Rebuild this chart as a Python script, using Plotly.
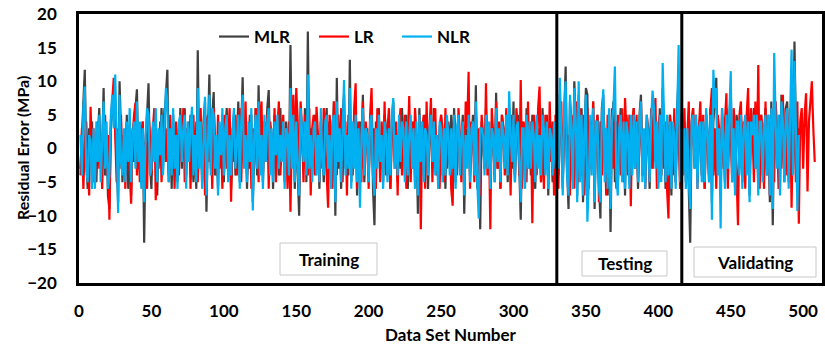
import plotly.graph_objects as go

# ---------------- data ----------------
mlr = [
    -3, 2, 5, 11.7, -2, -6, 3, -1, 4, -5,
    1, -5, 2, 6, -3, 0, 9, -4, 2, -7,
    -9, 3, 6, 9, 4, -2, -8, 10, 3, -5,
    2, -4, 5, -6, 1, -7, 3, -2, 6, 8.8,
    -3, 2, -5, 4, -14, 1, 5, 9.7, -2, -6,
    3, -1, 5, -7, 2, 0, 6, -3, 4, 8,
    11.7, -4, 2, -6, 5, -2, 3, -5, 1, 6,
    -3, 4, 6, -4, 2, -1, 5, 3, -5, 1,
    -6, 14.6, -2, 3, -5, 4, 7, -9.4, 2, 11,
    -3, 5, 8.4, -4, 1, -6, 3, -2, 5, -5,
    2, 6, -3, 4, -6, 1, 5, -4, 2, 7,
    -5, 3, 10.6, -2, 4, -6, 2, -3, 5, -8,
    1, 6, -4, 9.4, -2, 3, -5, 4, -1, 6,
    8.7, -3, 2, -6, 5, -2, 3, -4, 6, -1,
    2, -5, 4, 1, -3, 15.4, -2, 4, -6, 3,
    -4, -10, 5, 2, -3, 6, -5, 17.4, -1, 3,
    -4, 2, 5, -3, 1, -6, 4, 0, -5, 3,
    6, -2, 4, -5, 2, 7, -10, 10.5, -3, 2,
    -6, 5, 8, -3, 1, -4, 13.2, -5, 3, -2,
    6, -7, 2, 4, -3, 8, -5, 1, 3, -4,
    2, 7, -6, -11.4, 4, -2, 6, -3, 1, -5,
    5, 3, -4, 2, -6, 4, 7, -2, 1, -5,
    3, -3, 6, 2, -4, 5, -6, 1, 3, -2,
    4, -5, 2, -9.7, 6, -1, 3, -4, 5, 1,
    -6, 2, 4, -3, 6, -2, 1, -5, 3, 5,
    -4, 2, -6, 4, 1, -3, 5, -2, 6, -5,
    2, 4, -3, 1, 5, -9.7, 3, -2, 6, -4,
    2, 5, -3, 9.4, -6, 2, -12, 4, 1, -3,
    6, -2, 3, -5, 4, 1, -4, 8.3, -3, 2,
    -6, 5, 3, -2, 4, -5, 6, 1, -3, 7,
    -4, 2, 5, -3, -10.6, 4, 2, -5, 6, -2,
    3, -4, 5, 1, -6, 4, -2, 3, -5, 6,
    2, -3, 5, -7, 4, 1, -5, 3, -2, 6,
    -4, 8, 2, -6, 5, 12.2, -3, -9, 7, 4,
    -5, 10, 3, -7, 8, -4, 6, -8, 2, 9,
    8, -6, 4, -3, 7, -9, 3, 5, -5, -10.4,
    6, 8, -4, 2, -7, 5, -12.4, 3, 7, -5,
    4, -6, 2, 6, -4, 3, -7, 5, 1, -5,
    4, -3, 6, -2, 3, -6, 5, 8, -4, 2,
    -5, 4, 1, -6, 5, -3, 7, -2, 3, -5,
    6, -4, 9, 2, -6, 4, -3, 5, -7, 3,
    1, -5, 6, 11, -4, 2, -3, 4, -5, 2,
    -6, -14, 3, 6, -2, 4, -5, 2, 5, -4,
    3, -6, 5, 2, -4, 6, -8, 4, 7, 10.5,
    -3, 2, -7, 5, 1, -5, 6, -2, 4, 9,
    -4, 2, -6, 5, 3, -3, 6, -5, 2, 4,
    -3, 5, -7, 3, 1, 6, -2, 4, -6, 3,
    5, -4, 2, 6, -3, 4, -8, 7, -11.4, 3,
    5, -2, 4, -6, 8, 3, -4, 6, 7, -5,
    4, 9, -3, 15.9, 2, -7, 3,
]

lr = [
    -4, 3, -6, 1, 4, -2, -7, 6.2, -1, 3,
    -5, 2, 4, -3, 1, -6, 3, 5, -4, 2,
    -10.6, 4, 7, 10.5, 2, -5, 3, -3, 5, -2,
    2, -6, 4, 1, -3, -8.2, 2, 5, 6.8, -4,
    3, -5, 2, 4, -3, 1, -6, 5, 2, -4,
    3, 6, -7.7, 2, -3, 4, -5, 1, 6, -2,
    3, -5, 5, -3, 2, -6, 4, 1, -4, 5,
    -2, 6, -5, 3, -1, 4, -6, 2, 5, -3,
    4, -5, 2, 6, -3, 1, -7, 4, 5, -2,
    3, -6, 6, 2, -4, 5, -3, 2, -6, 4,
    5, -3, 2, 6, -7.9, 3, -2, 5, -4, 2,
    6, -5, 3, -2, 7, -4, 1, 5, -6, 3,
    -3, 6, 2, -5, 4, 7, -4, 3, -2, 5,
    -6, 4, 2, -3, 6, -5, 3, 7, -4, 1,
    5, -3, 2, -6, 4, -9.4, 3, 8, -2, 9,
    4, -6, 7, 3, -5, 5, 2, -4, 6, -7,
    3, 5, -4, 6.2, 2, -5, 4, -3, 6, 1,
    -4, -8.8, 5, 3, -6, 7, 2, -4, 5, -2,
    6, -5, 3, 4, -7, 5, -2, 3, -4, 6,
    9.7, -6, 4, 2, -5, 7, -3, 4, 1, -6,
    5, 9, -4, 3, -6, 6, 2, -5, 4, -3,
    7, -4, 3, 6, -6, 2, 5, -3, 4, -7,
    3, 6, -4, 2, 5, -6, 3, 7.8, -5, 4,
    -3, 6, 2, -5, 4, -12, 3, 5, -6, 7,
    -2, 4, 7.5, -5, 3, 6, -4, 2, -6, 5,
    3, -5, 6, -3, 4, 2, -6, -8.5, 5, 3,
    -4, 6, 2, -5, 4, -3, 7, 3, 11.4, -6,
    4, 2, -5, 6, -4, 3, -7, 5, 2, -3,
    9.7, -4, 3, -12, 6, 2, -5, 7, -3, 4,
    -6, 5, 3, -4, 6, -2, 4, -7, 5, 2,
    -5, 6, 3, -4, 10.2, -6, 4, 2, -5, 7,
    -3, 4, -11.1, 5, 3, -4, 6, 9.2, -5, 2,
    -6, 5, 3, -4, 7, -2, 4, -7, 5, 3,
    -6, 4, 7, -5, 3, 6, -4, 2, -7, 5,
    4, -6, 7, 3, -5, 6, -4, 5, -7, 3,
    6, -5, 4, -3, 7, -6, 3, 5, -8, 4,
    -4, 6, 2, -7, 5, 3, -5, 6, -3, 4,
    -6, 5, 3, -4, 6, -5, 7.5, 2, -4, 5,
    -8.6, 4, 6, -3, 5, -5, 3, 7, -4, 2,
    -6, 5, 3, -5, 6, -3, 4, 7.5, -6, 3,
    5, -4, 6, -3, 4, -6, -10.4, 5, 3, -4,
    6, -5, 4, 2, -6, 5, -3, 6, -4, 3,
    7, -5, 4, 6, -3, 5, -6, 3, 7, -4,
    5, -6, 4, 2, -5, 6, 9, -4, 3, -6,
    5, 3, -5, 6, -3, 4, 8.2, -6, 4, 2,
    -5, 6, 3, -4, -11.4, 5, 7, -3, 4, -6,
    5, 9, -4, 6, 3, -5, 7, -3, 12.4, -6,
    5, 3, -6, 7, -4, 5, -7, 6, 4, -5,
    7, 3, -6, 5, -3, 8, -5, 6, -4, 3,
    6, -8.8, 5, 3, -5, 7, -11.2, 4, 6, -3,
    5, 8.2, -6.4, 4, 7, 10, 3, -2,
]

nlr = [
    2, -4, 6, 9.2, -3, -5, 2, 1, -6, 3,
    -6, 4, -2, 5, -5, 2, 7, -3, 4, -6,
    -4, 5, 8, 3, 11, 2, -9.6, 8, -2, -4,
    3, -5, 4, -2, 6, -5, 2, 4, -3, 7,
    -2, 4, -6, 3, -8, 2, 6, 5, -4, -3,
    4, -2, 6, -5, 3, -1, 5, -4, 2, 9,
    7, -5, 3, -4, 6, -3, 2, -6, 4, 5,
    -2, 3, 5, -6, 4, -2, 3, 6.2, -4, 2,
    -5, 9, -3, 4, -6, 2, 7.7, -7, 3, 8,
    -4, 6, 5, -3, 2, -7, 4, -1, 6, -4,
    3, 5, -5, 2, -4, 3, 6, -3, 1, 5,
    -6, 4, 8, -3, 2, -5, 4, -2, 6, -9.2,
    2, 5, -3, 7, -4, 2, -6, 5, -2, 4,
    6, -4, 3, -5, 4, -1, 5, -3, 2, -2,
    4, -6, 3, 2, -4, 9, -3, 5, -5, 4,
    -3, -7, 6, 3, -2, 4, -4, 11, -3, 2,
    -5, 3, 4, -4, 2, -5, 6, -2, -4, 4,
    5, -3, 2, -6, 4, 5, -8, 7, -2, 3,
    -5, 4, 10.2, -4, 2, -3, 9, -6, 4, -3,
    5, -5, 3, -8.8, 2, 6, -4, 3, 2, -5,
    4, 5, -4, -7, 3, -3, 5, -2, 2, -6,
    4, 2, -5, 3, -4, 5, 7.5, -3, 2, -4,
    5, -2, 4, 3, -5, 4, -4, 2, 5, -3,
    3, -6, 4, -7, 5, -2, 4, -5, 3, 2,
    -4, 3, 5, -2, 4, -4, 2, -6, 4, 3,
    -5, 3, -4, 5, 2, -4, 3, -3, 5, -6,
    3, 5, -4, 2, 4, -7, 2, -3, 5, -5,
    3, 4, -4, 7, -5, -10.4, 3, 3, 2, -4,
    5, -3, 4, -6, 3, 2, -5, 6, -2, 3,
    -5, 4, 2, -3, 5, -4, 8.5, 2, -2, 5,
    -5, 3, 4, -2, -8, 3, 3, -6, 5, -3,
    4, -3, 4, 2, -5, 5, -3, 2, -4, 5,
    3, -4, 4, -6, 3, 2, -4, 4, -3, 5,
    -3, 10.5, 3, -7, 6, 10, -4, -7, 8, 3,
    -6, 9, 4, -8, 10, -5, 5, -7, 3, 8,
    -10.9, -5, 5, -4, 6, -8, 4, 4, -6, -8,
    5, 8.8, -5, 3, -6, 6, -9, 4, 6, 12.2,
    -4, -7, 3, 5, -5, 4, -6, 4, 2, -6,
    5, -4, 5, -3, 4, -5, 4, 7, -5, 3,
    -6, 5, 2, -5, 4, 8.6, 6, -3, 4, -6,
    5, -5, 12.7, 3, -5, 5, -4, 4, -6, 4,
    2, -6, 5, 15.4, -5, 3, -4, 3, -6, 3,
    -5, -9, 4, 5, -3, 5, -6, 3, 4, -5,
    4, -5, 6, 3, -5, 5, -10.6, 11.7, 6, 9,
    -4, 3, -11.9, 6, 2, -6, 5, -3, 5, 11.5,
    -5, 3, -7, 4, 4, -4, 5, -6, 3, 5,
    -4, 4, -8, 4, 2, 5, -3, 5, -7, 4,
    4, -5, 3, 5, -4, 5, -7, 6, -9, 14.2,
    4, -3, 5, -7, 7, 4, -5, 5, 6, -6,
    5, 14.7, -4, 13, 3, -9.3, 2,
]

series_names = ["MLR", "LR", "NLR"]
series_colors = ["#404040", "#FF0000", "#00B0F0"]
x_ticks = [0, 50, 100, 150, 200, 250, 300, 350, 400, 450, 500]
y_ticks = [-20, -15, -10, -5, 0, 5, 10, 15, 20]
phase_bounds = [329.9, 416.2]          # data-set numbers where phases split
phase_labels = ["Training", "Testing", "Validating"]

# ---------------- figure ----------------
FONT = "Lato"
fig = go.Figure()
legend_ids = ["legend", "legend2", "legend3"]
for name, vals, col, lg in zip(series_names, [mlr, lr, nlr], series_colors, legend_ids):
    fig.add_trace(go.Scatter(
        x=list(range(1, len(vals) + 1)), y=vals, mode="lines", name=name,
        line=dict(color=col, width=2.2), legend=lg,
    ))

# pixel -> paper helpers
L, R, T, B = 79, 3, 14, 70
W, H = 825, 353
pw, ph = W - L - R, H - T - B
def px2paper_x(px):
    return (px - L) / pw
def py2paper_y(py):
    return (H - B - py) / ph

leg_common = dict(orientation="h", xanchor="left", yanchor="middle",
                  bgcolor="rgba(0,0,0,0)", borderwidth=0,
                  font=dict(family=FONT, size=17, color="#000000", weight="bold"))
fig.update_layout(
    legend=dict(x=px2paper_x(214), y=py2paper_y(37), **leg_common),
    legend2=dict(x=px2paper_x(314), y=py2paper_y(37), **leg_common),
    legend3=dict(x=px2paper_x(397), y=py2paper_y(37), **leg_common),
)

# phase separators
for xb in phase_bounds:
    fig.add_shape(type="line", xref="x", yref="paper", x0=xb, x1=xb, y0=0, y1=1,
                  line=dict(color="#000000", width=3))

# phase label boxes
boxes = [(280, 377, 243, 275), (582, 667, 251, 276), (694, 816, 247, 277)]
for (x0, x1, y0, y1), lab in zip(boxes, phase_labels):
    fig.add_shape(type="rect", xref="paper", yref="paper",
                  x0=px2paper_x(x0), x1=px2paper_x(x1),
                  y0=py2paper_y(y1), y1=py2paper_y(y0),
                  line=dict(color="#c8c8c8", width=1), fillcolor="white")
    fig.add_annotation(xref="paper", yref="paper",
                       x=px2paper_x((x0 + x1) / 2), y=py2paper_y((y0 + y1) / 2),
                       text=lab, showarrow=False, xanchor="center", yanchor="middle",
                       font=dict(family=FONT, size=17, color="#000000", weight="bold"))

# y-axis title as rotated annotation (precise placement)
fig.add_annotation(xref="paper", yref="paper", x=px2paper_x(22), y=py2paper_y(148),
                   text="Residual Error (MPa)", textangle=-90, showarrow=False,
                   xanchor="center", yanchor="middle",
                   font=dict(family=FONT, size=16, color="#000000", weight="bold"))

fig.update_xaxes(range=[0, 513], tickvals=x_ticks, showgrid=False, zeroline=False,
                 showline=True, linecolor="#000000", linewidth=2.5, mirror=True,
                 ticks="", ticklabelstandoff=11,
                 tickfont=dict(family=FONT, size=17, color="#000000", weight="bold"),
                 title=dict(text="Data Set Number", standoff=9,
                            font=dict(family=FONT, size=17, color="#000000", weight="bold")))
fig.update_yaxes(range=[-20, 20], tickvals=y_ticks, showgrid=False, zeroline=False,
                 showline=True, linecolor="#000000", linewidth=2.5, mirror=True,
                 ticks="", ticklabelstandoff=16,
                 tickfont=dict(family=FONT, size=17, color="#000000", weight="bold"))

fig.update_layout(
    width=W, height=H, margin=dict(l=L, r=R, t=T, b=B, autoexpand=False),
    plot_bgcolor="white", paper_bgcolor="white", showlegend=True,
)

fig.write_html("out.html")
